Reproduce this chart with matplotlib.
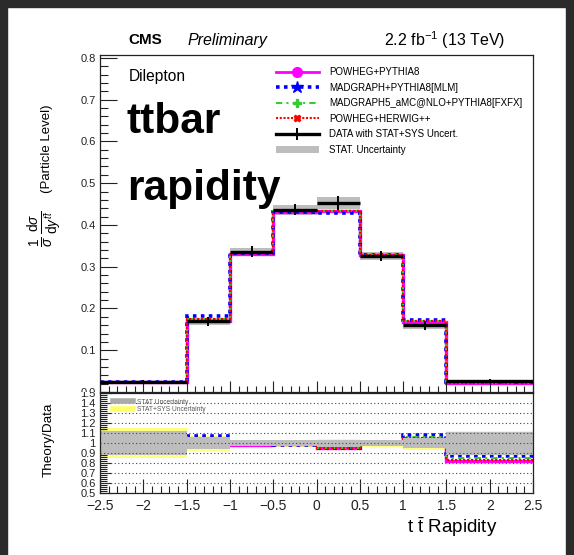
"""
ttbar rapidity, dilepton channel: normalized differential cross section
at particle level with a Theory/Data ratio panel.
"""

import matplotlib
matplotlib.use("Agg")

import matplotlib.pyplot as plt
from matplotlib.lines import Line2D
from matplotlib.patches import Patch, Rectangle
from matplotlib.ticker import MultipleLocator, FixedLocator, FuncFormatter
from matplotlib.transforms import Bbox, TransformedBbox
import numpy as np

# --- values ---
bin_edges = [-2.5, -1.5, -1.0, -0.5, 0.0, 0.5, 1.0, 1.5, 2.5]

data_xsec = [0.023, 0.169, 0.336, 0.436, 0.453, 0.326, 0.160, 0.026]
data_err = [0.005, 0.011, 0.013, 0.013, 0.016, 0.012, 0.011, 0.004]
data_stat = [0.003, 0.008, 0.010, 0.011, 0.015, 0.010, 0.008, 0.003]

powheg_py8 = [0.023, 0.171, 0.331, 0.432, 0.433, 0.328, 0.167, 0.021]
madgraph_mlm = [0.024, 0.181, 0.332, 0.430, 0.429, 0.329, 0.173, 0.023]
amcnlo_fxfx = [0.024, 0.175, 0.333, 0.434, 0.433, 0.329, 0.170, 0.022]
powheg_herwig = [0.023, 0.174, 0.333, 0.434, 0.433, 0.329, 0.169, 0.022]

ratio_powheg_py8 = [0.998, 1.013, 0.985, 0.990, 0.955, 1.005, 1.043, 0.820]
ratio_madgraph_mlm = [1.057, 1.073, 0.987, 0.985, 0.947, 1.010, 1.083, 0.870]
ratio_amcnlo_fxfx = [1.030, 1.037, 0.990, 0.995, 0.955, 1.010, 1.060, 0.850]
ratio_powheg_herwig = [1.020, 1.030, 0.990, 0.995, 0.955, 1.010, 1.055, 0.835]

ratio_stat = [0.120, 0.060, 0.030, 0.030, 0.035, 0.030, 0.050, 0.115]
ratio_total = [0.150, 0.075, 0.035, 0.035, 0.040, 0.035, 0.065, 0.125]

W, H = 574, 555


def px_box(x0, y0, x1, y1):
    """Pixel box (top-left origin) -> figure fraction [l, b, w, h]."""
    return [x0 / W, 1 - y1 / H, (x1 - x0) / W, (y1 - y0) / H]


def style_axis(ax):
    """ROOT-like frame: inward ticks on left and bottom only."""
    for sp in ax.spines.values():
        sp.set_linewidth(0.9)
        sp.set_color("#222222")
    ax.tick_params(which="both", direction="in", top=False, right=False,
                   colors="#222222", width=0.8)
    ax.tick_params(which="major", length=9)
    ax.tick_params(which="minor", length=4.5)


def clip_labels(labels, fig, y_lo, y_hi):
    """Clip tick labels to a horizontal figure band (like ROOT pads)."""
    box = TransformedBbox(Bbox([[0, y_lo], [1, y_hi]]), fig.transFigure)
    for lab in labels:
        lab.set_clip_on(True)
        lab.set_clip_box(box)


def draw_models(ax, series):
    for vals, color, ls, lw in series:
        ax.stairs(vals, bin_edges, color=color, linestyle=ls, linewidth=lw,
                  baseline=None)


def main():
    plt.rcParams["font.family"] = ["Liberation Sans", "DejaVu Sans"]
    plt.rcParams["mathtext.fontset"] = "custom"
    plt.rcParams["mathtext.rm"] = "Liberation Sans"
    plt.rcParams["mathtext.it"] = "Liberation Sans:italic"

    edges = np.array(bin_edges)
    centers = 0.5 * (edges[1:] + edges[:-1])
    widths = edges[1:] - edges[:-1]
    data = np.array(data_xsec)

    fig = plt.figure(figsize=(W / 100, H / 100), dpi=100)

    top_split = 392
    ax = fig.add_axes(px_box(100, 55, 533, top_split))
    rax = fig.add_axes(px_box(100, top_split + 1, 533, 493))

    pink, blue, green, red = "#ff00ff", "#0000ff", "#33cc33", "#ff0000"
    styles = [
        (pink, "-", 2.4),
        (blue, (0, (1, 1.2)), 2.6),
        (green, (0, (3, 2, 1, 2)), 1.5),
        (red, (0, (1, 0.8)), 1.6),
    ]

    # --- main panel ---
    ax.bar(centers, 2 * np.array(data_stat), bottom=data - np.array(data_stat),
           width=widths, color="#bdbdbd", linewidth=0, zorder=1)
    draw_models(ax, [(v,) + s for v, s in zip(
        [powheg_py8, madgraph_mlm, amcnlo_fxfx, powheg_herwig], styles)])
    ax.errorbar(centers, data, xerr=widths / 2, fmt="none", ecolor="black",
                elinewidth=2.4, capsize=0, zorder=5)
    ax.errorbar(centers, data, yerr=data_err, fmt="none", ecolor="black",
                elinewidth=1.4, capsize=0, zorder=5)

    ax.set_xlim(-2.5, 2.5)
    ax.set_ylim(0, 0.807)
    style_axis(ax)
    ax.yaxis.set_major_locator(FixedLocator(np.arange(0, 0.81, 0.1)))
    ax.yaxis.set_minor_locator(MultipleLocator(0.02))
    ax.yaxis.set_major_formatter(FuncFormatter(lambda v, p: f"{v:.1f}"))
    ax.xaxis.set_major_locator(MultipleLocator(0.5))
    ax.xaxis.set_minor_locator(MultipleLocator(0.1))
    ax.tick_params(axis="x", labelbottom=False)
    ax.tick_params(axis="y", labelsize=8, pad=3, length=12)
    ax.tick_params(axis="y", which="minor", length=6)
    ax.tick_params(axis="x", which="major", length=8)
    ax.tick_params(axis="x", which="minor", length=4)

    # --- ratio panel ---
    rax.bar(centers, 2 * np.array(ratio_total), bottom=1 - np.array(ratio_total),
            width=widths, color="#ffff80", linewidth=0, zorder=1)
    rax.bar(centers, 2 * np.array(ratio_stat), bottom=1 - np.array(ratio_stat),
            width=widths, color="#bdbdbd", linewidth=0, zorder=2)
    for yv in np.arange(0.6, 1.45, 0.1):
        rax.axhline(yv, color="#444444", linewidth=0.8,
                    linestyle=(0, (1, 2.2)), zorder=3)
    draw_models(rax, [(v,) + s for v, s in zip(
        [ratio_powheg_py8, ratio_madgraph_mlm, ratio_amcnlo_fxfx,
         ratio_powheg_herwig], styles)])

    rax.set_xlim(-2.5, 2.5)
    rax.set_ylim(0.5, 1.5)
    style_axis(rax)
    rax.yaxis.set_major_locator(FixedLocator(np.arange(0.5, 1.51, 0.1)))
    rax.yaxis.set_minor_locator(MultipleLocator(0.02))
    rax.yaxis.set_major_formatter(FuncFormatter(lambda v, p: f"{v:g}"))
    rax.xaxis.set_major_locator(MultipleLocator(0.5))
    rax.xaxis.set_minor_locator(MultipleLocator(0.1))
    rax.xaxis.set_major_formatter(
        FuncFormatter(lambda v, p: f"{v:g}".replace("-", "\u2212")))
    rax.tick_params(axis="y", labelsize=8, pad=3, length=8)
    rax.tick_params(axis="y", which="minor", length=5)
    rax.tick_params(axis="x", labelsize=10, pad=4.5, length=10)
    rax.tick_params(axis="x", which="minor", length=5)

    rleg = [Line2D([], [], color="#aaaaaa", lw=4),
            Line2D([], [], color="#ffff66", lw=4)]
    rax.legend(rleg, ["STAT Uncertainty", "STAT+SYS Uncertainty"],
               loc="upper left", bbox_to_anchor=(0.02, 0.99), frameon=False,
               fontsize=4.8, handlelength=3.0, handletextpad=0.6,
               labelspacing=0.05, borderpad=0.2, labelcolor="#555555")

    fig.canvas.draw()
    split = 1 - top_split / H
    clip_labels(ax.get_yticklabels(), fig, split, 1)
    clip_labels(rax.get_yticklabels(), fig, 0, split)

    # --- legend ---
    handles = [
        Line2D([], [], color=pink, lw=2, marker="o", markersize=7),
        Line2D([], [], color=blue, lw=2.6, ls=(0, (1, 1.2)), marker="*",
               markersize=9),
        Line2D([], [], color=green, lw=1.5, ls=(0, (3, 2, 1, 2)), marker="P",
               markersize=6),
        Line2D([], [], color=red, lw=1.5, ls=(0, (1, 0.8)), marker="X",
               markersize=5),
        Line2D([], [], color="black", lw=2.4, marker="|", markersize=9,
               markeredgewidth=1.4),
        Patch(facecolor="#bdbdbd", edgecolor="none"),
    ]
    labels = ["POWHEG+PYTHIA8", "MADGRAPH+PYTHIA8[MLM]",
              "MADGRAPH5_aMC@NLO+PYTHIA8[FXFX]", "POWHEG+HERWIG++",
              "DATA with STAT+SYS Uncert.", "STAT. Uncertainty"]
    fig.legend(handles, labels, loc="upper left",
               bbox_to_anchor=(276 / W, 1 - 67 / H), frameon=False,
               fontsize=7, handlelength=4.4, handletextpad=1.1,
               labelspacing=0.57, borderpad=0, borderaxespad=0)

    # --- texts ---
    fig.text(128 / W, 1 - 40 / H, "CMS", fontsize=11, fontweight="bold",
             va="center", ha="left")
    fig.text(187 / W, 1 - 40 / H, "Preliminary", fontsize=11.5,
             style="italic", va="center", ha="left")
    fig.text(505 / W, 1 - 40 / H, r"2.2 fb$^{-1}$ (13 TeV)", fontsize=11.5,
             va="center", ha="right")
    fig.text(129 / W, 1 - 77 / H, "Dilepton", fontsize=11.2, va="center")
    fig.text(127 / W, 1 - 133 / H, "ttbar", fontsize=30.5,
             fontweight="bold", va="baseline")
    fig.text(127 / W, 1 - 200 / H, "rapidity", fontsize=30.5,
             fontweight="bold", va="baseline")

    fig.text(47 / W, 1 - 149 / H, "(Particle Level)", fontsize=9.5,
             rotation=90, ha="center", va="center")
    fig.text(46 / W, 1 - 229 / H,
             r"$\frac{1}{\sigma}\,\frac{\mathrm{d}\sigma}"
             r"{\mathrm{d}y^{t\bar{t}}}$",
             fontsize=14, rotation=90, ha="center", va="center")
    fig.text(49 / W, 1 - 440 / H, "Theory/Data", fontsize=9.7, rotation=90,
             ha="center", va="center")
    fig.text(498 / W, 1 - 527 / H, r"t $\bar{\mathrm{t}}$ Rapidity",
             fontsize=13.5, ha="right", va="center")

    # dark screenshot frame
    dark = "#2b2b2b"
    for rect in [(0, 0, 7 / W, 1), (0, 1 - 7 / H, 1, 7 / H),
                 (566 / W, 0, 8 / W, 1)]:
        fig.patches.append(Rectangle(rect[:2], rect[2], rect[3],
                                     transform=fig.transFigure, color=dark,
                                     zorder=10))

    fig.savefig("out.png", dpi=100)


if __name__ == "__main__":
    main()
